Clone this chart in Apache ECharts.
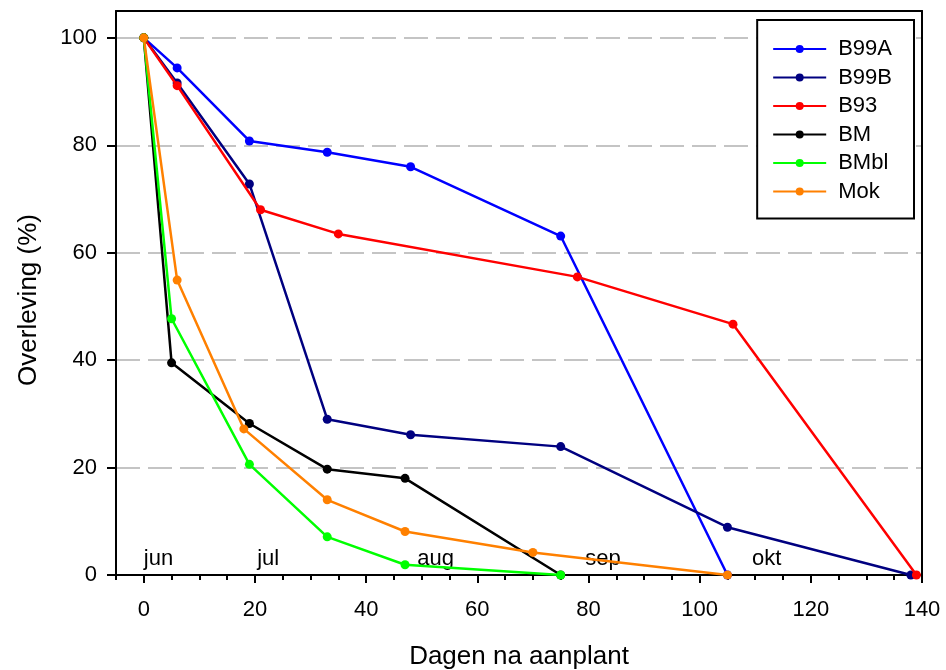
<!DOCTYPE html>
<html>
<head>
<meta charset="utf-8">
<script src="https://cdn.jsdelivr.net/npm/echarts@6/dist/echarts.min.js"></script>
<style>
  html, body { margin: 0; padding: 0; background: #fff; }
  #chart { width: 946px; height: 670px; }
</style>
</head>
<body>
<div id="chart"></div>
<script>
// Survival (%) against days after planting, per treatment
const seriesNames = ['B99A', 'B99B', 'B93', 'BM', 'BMbl', 'Mok'];
const seriesColors = ['#0000ff', '#000080', '#ff0000', '#000000', '#00ff00', '#ff8000'];

const daysB99A = [0, 6, 19, 33, 48, 75, 105];
const valsB99A = [100, 94.4, 80.8, 78.7, 76.0, 63.1, 0];

const daysB99B = [0, 6, 19, 33, 48, 75, 105, 138];
const valsB99B = [100, 91.6, 72.8, 29.0, 26.1, 23.9, 8.9, 0];

const daysB93 = [0, 6, 21, 35, 78, 106, 139];
const valsB93 = [100, 91.1, 68.0, 63.5, 55.5, 46.7, 0];

const daysBM = [0, 5, 19, 33, 47, 75];
const valsBM = [100, 39.5, 28.2, 19.7, 18.0, 0];

const daysBMbl = [0, 5, 19, 33, 47, 75];
const valsBMbl = [100, 47.7, 20.6, 7.1, 1.9, 0];

const daysMok = [0, 6, 18, 33, 47, 70, 105];
const valsMok = [100, 54.9, 27.2, 14.0, 8.1, 4.2, 0];

// Month markers along the bottom of the plot
const monthNames = ['jun', 'jul', 'aug', 'sep', 'okt'];
const monthDays = [0, 20.4, 49.2, 79.4, 109.4];

// Axis ticks
const xMajorTicks = [0, 20, 40, 60, 80, 100, 120, 140];
const yMajorTicks = [0, 20, 40, 60, 80, 100];

const FONT = "'Liberation Sans', Arial, sans-serif";

const seriesX = [daysB99A, daysB99B, daysB93, daysBM, daysBMbl, daysMok];
const seriesY = [valsB99A, valsB99B, valsB93, valsBM, valsBMbl, valsMok];

const lineSeries = seriesNames.map((name, i) => ({
  name: name,
  type: 'line',
  xAxisIndex: 0,
  yAxisIndex: 0,
  data: seriesX[i].map((d, j) => [d, seriesY[i][j]]),
  symbol: 'circle',
  symbolSize: 9,
  showSymbol: true,
  color: seriesColors[i],
  lineStyle: { width: 2.5, color: seriesColors[i] },
  itemStyle: { color: seriesColors[i], opacity: 1 },
  z: 3 + i,
  silent: true
}));

const monthSeries = {
  name: 'maanden',
  type: 'scatter',
  xAxisIndex: 0,
  yAxisIndex: 0,
  symbolSize: 0,
  silent: true,
  itemStyle: { opacity: 1 },
  data: monthDays.map((d, i) => ({ value: [d, 0], name: monthNames[i] })),
  label: {
    show: true,
    position: [0, 0],
    align: 'left',
    verticalAlign: 'bottom',
    offset: [0, -5],
    formatter: p => p.name,
    fontFamily: FONT,
    fontSize: 22,
    color: '#000',
    opacity: 1
  },
  z: 2
};

const chart = echarts.init(document.getElementById('chart'), null, { renderer: 'canvas' });

chart.setOption({
  animation: false,
  backgroundColor: '#fff',
  textStyle: { fontFamily: FONT },
  grid: { left: 116, right: 24, top: 11, bottom: 95, containLabel: false, outerBoundsMode: 'none' },
  legend: {
    data: seriesNames,
    orient: 'vertical',
    right: 32,
    top: 20,
    padding: [18, 22, 16, 15],
    itemWidth: 53,
    itemHeight: 10,
    itemGap: 6.5,
    borderColor: '#000',
    borderWidth: 2,
    backgroundColor: '#fff',
    textStyle: { fontFamily: FONT, fontSize: 22, color: '#000', padding: [0, 0, 0, 7] }
  },
  xAxis: [
    {
      type: 'value',
      position: 'bottom',
      min: -5,
      max: 140,
      minInterval: 20,
      maxInterval: 20,
      splitNumber: 7,
      name: 'Dagen na aanplant',
      nameLocation: 'middle',
      nameGap: 69,
      nameTextStyle: { fontFamily: FONT, fontSize: 26, color: '#000' },
      axisLine: { show: true, onZero: false, lineStyle: { color: '#000', width: 2 } },
      axisTick: { show: true, length: 8, customValues: xMajorTicks, lineStyle: { color: '#000', width: 2 } },
      axisLabel: { customValues: xMajorTicks, margin: 24, fontFamily: FONT, fontSize: 22, color: '#000' },
      splitLine: { show: false }
    },
    {
      type: 'value',
      position: 'bottom',
      min: -5,
      max: 140,
      interval: 5,
      axisLine: { show: false, onZero: false },
      axisTick: { show: true, length: 5, lineStyle: { color: '#000', width: 2 } },
      axisLabel: { show: false },
      splitLine: { show: false }
    },
    {
      type: 'value',
      position: 'top',
      min: -5,
      max: 140,
      axisLine: { show: true, onZero: false, lineStyle: { color: '#000', width: 2 } },
      axisTick: { show: false },
      axisLabel: { show: false },
      splitLine: { show: false }
    }
  ],
  yAxis: [
    {
      type: 'value',
      position: 'left',
      min: 0,
      max: 105,
      minInterval: 20,
      maxInterval: 20,
      name: 'Overleving (%)',
      nameLocation: 'middle',
      nameGap: 74,
      nameTextStyle: { fontFamily: FONT, fontSize: 26, color: '#000', padding: [0, 14, 0, 0] },
      axisLine: { show: true, onZero: false, lineStyle: { color: '#000', width: 2 } },
      axisTick: { show: true, length: 9, customValues: yMajorTicks, lineStyle: { color: '#000', width: 2 } },
      axisLabel: { customValues: yMajorTicks, margin: 19, fontFamily: FONT, fontSize: 22, color: '#000' },
      splitLine: {
        show: true,
        showMinLine: false,
        showMaxLine: true,
        lineStyle: { color: '#c4c4c4', width: 2, type: [24, 8] }
      }
    },
    {
      type: 'value',
      position: 'right',
      min: 0,
      max: 105,
      axisLine: { show: true, onZero: false, lineStyle: { color: '#000', width: 2 } },
      axisTick: { show: false },
      axisLabel: { show: false },
      splitLine: { show: false }
    }
  ],
  series: [monthSeries].concat(lineSeries)
});
</script>
</body>
</html>
